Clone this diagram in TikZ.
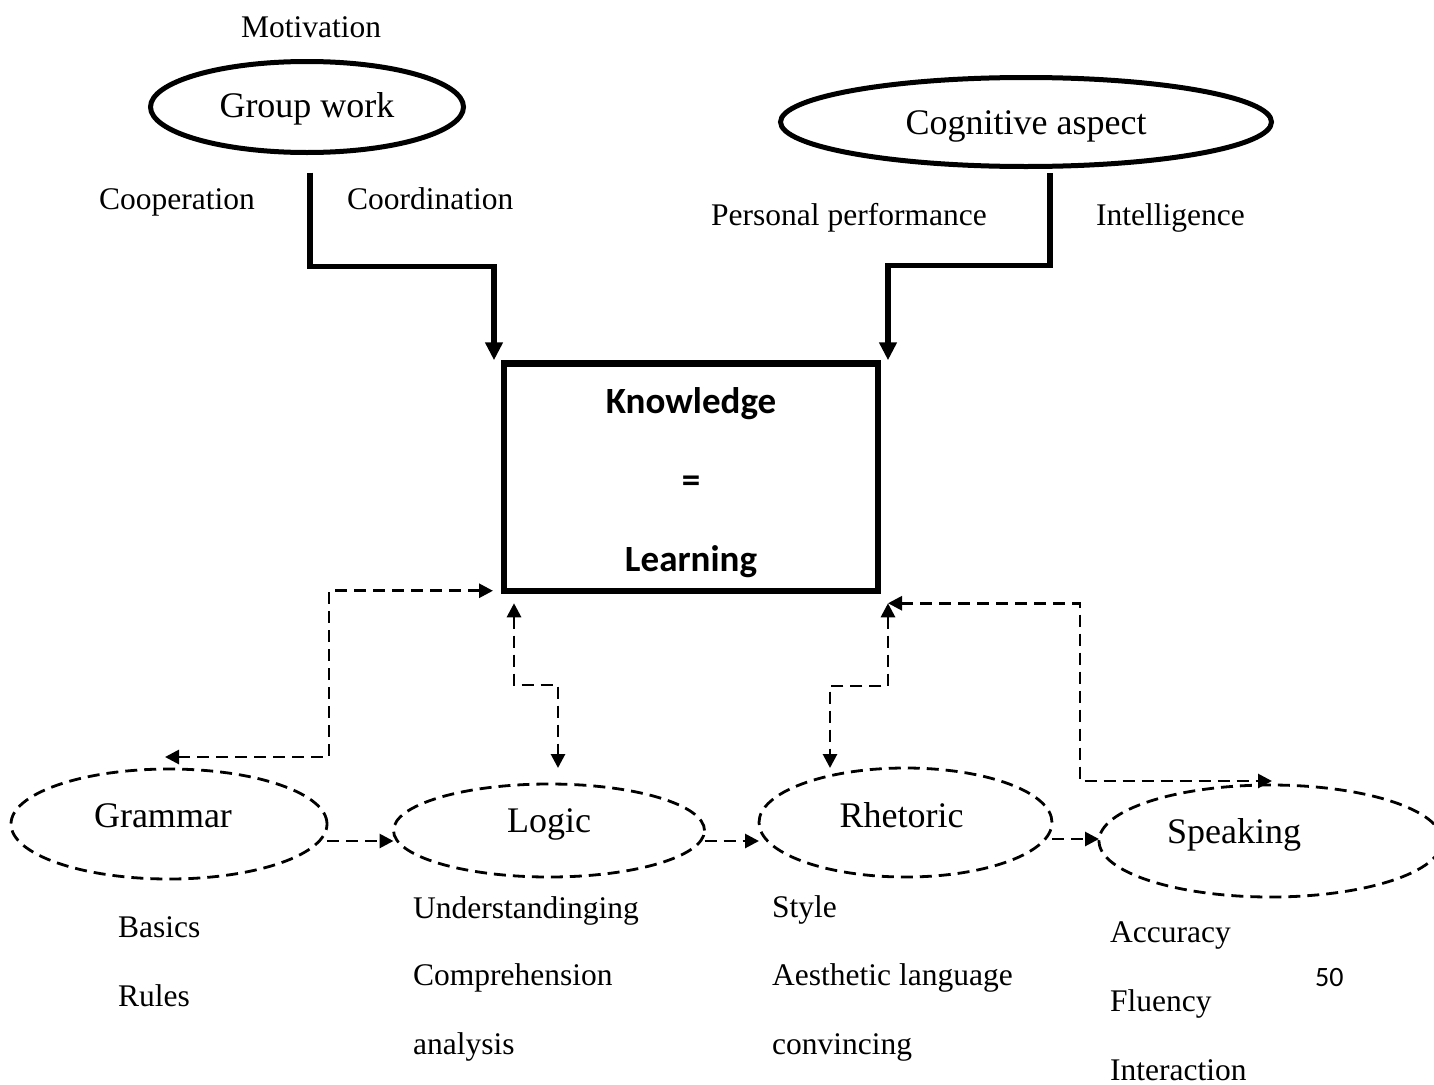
\documentclass[tikz,border=0pt]{standalone}
\usepackage{fontspec}
\setmainfont{Liberation Serif}
\newfontfamily\calfont{Carlito}
\usetikzlibrary{arrows.meta,shapes.geometric,calc}
\tikzset{
  bigtxt/.style={font=\fontsize{36}{40}\selectfont},
  smalltxt/.style={font=\fontsize{31.5}{36}\selectfont, inner sep=0pt, anchor=base west},
  toff/.style={text height=#1, text depth=0pt},
  solidell/.style={ellipse, draw, line width=5pt, inner sep=0pt, outer sep=0pt, bigtxt},
  dashell/.style={ellipse, draw, line width=2.8pt, dash pattern=on 12pt off 7pt, inner sep=0pt, outer sep=0pt, bigtxt},
  solidarr/.style={line width=5.5pt, >={Triangle[length=18pt,width=17pt]}, ->},
  dashline/.style={line width=2.8pt, dash pattern=on 12pt off 7pt, >={Triangle[length=14pt,width=14pt]}},
  twoway/.style={dashline, <->},
  oneway/.style={dashline, ->},
}
\begin{document}
\begin{tikzpicture}[x=1pt,y=-1pt]
\useasboundingbox (0,0) rectangle (1434,1084);

% top ellipses
\node[solidell, minimum width=313pt, minimum height=91pt, toff=20pt] (gw) at (307,107) {Group work};
\node[solidell, minimum width=491pt, minimum height=89pt, toff=24pt] (cog) at (1026,122) {Cognitive aspect};

% central box
\node[draw, line width=6.5pt, outer sep=0pt, minimum width=374pt, minimum height=227.5pt,
      align=center, font=\calfont\bfseries\fontsize{37}{79}\selectfont] (box) at (691,477)
      {\rule{0pt}{38pt}Knowledge\\=\\Learning};

% bottom ellipses
\node[dashell, minimum width=316pt, minimum height=110pt, toff=6pt] (gram) at (169,824) {Grammar\hspace*{12pt}};
\node[dashell, minimum width=311pt, minimum height=93pt, toff=3pt] (logic) at (549,830.5) {Logic};
\node[dashell, minimum width=293pt, minimum height=109pt, toff=9pt] (rhet) at (905.5,822.5) {Rhetoric\hspace*{8pt}};
\node[dashell, minimum width=343pt, minimum height=112pt, toff=4pt] (speak) at (1270.5,841) {Speaking\hspace*{73pt}};

% top labels
\node[smalltxt] (motiv) at (241,37.5) {Motivation};
\node[smalltxt] (coop) at (99,209) {Cooperation};
\node[smalltxt] (coord) at (347,209) {Coordination};
\node[smalltxt] (perf) at (711,225) {Personal performance};
\node[smalltxt] (intel) at (1096,225) {Intelligence};

% bottom labels
\node[smalltxt] (basics) at (118,937) {Basics};
\node[smalltxt] (rules) at (118,1006) {Rules};
\node[smalltxt] (under) at (413,918) {Understandinging};
\node[smalltxt] (compr) at (413,985.5) {Comprehension};
\node[smalltxt] (anal) at (413,1054) {analysis};
\node[smalltxt] (style) at (772,917) {Style};
\node[smalltxt] (aesth) at (772,985) {Aesthetic language};
\node[smalltxt] (convi) at (772,1054) {convincing};
\node[smalltxt] (accu) at (1110,942) {Accuracy};
\node[smalltxt] (flue) at (1110,1011) {Fluency};
\node[smalltxt] (inter) at (1110,1080) {Interaction};
\node[font=\calfont\fontsize{28}{32}\selectfont, inner sep=0pt, anchor=base west] (page) at (1315,986) {50};

% solid connectors
\draw[solidarr] ($(gw.south)+(3,20)$) -- ++(0,94) -| ($(box.north west)+(-10,-3)$);
\draw[solidarr] ($(cog.south)+(24,6.5)$) -- ++(0,92.5) -| ($(box.north east)+(10,-3)$);

% dashed connectors to box
\draw[twoway] ($(gram.north)+(-4,-12)$) -| ($(box.south west)+(-175,0)$) -- ($(box.south west)+(-11,0)$);
\draw[twoway] ($(box.south west)+(10,12.5)$) |- ($(logic.north)+(9,-99)$) -- ($(logic.north)+(9,-16)$);
\draw[twoway] ($(box.south east)+(10,12.5)$) |- ($(rhet.north)+(-75.5,-82)$) -- ($(rhet.north)+(-75.5,0)$);
\draw[twoway] ($(box.south east)+(10,12.5)$) -| ($(speak.north)+(-190.5,-4)$) -- ($(speak.north)+(1.5,-4)$);

% dashed chain
\draw[oneway] ($(gram.east)+(0,17)$) -- ($(logic.west)+(0,10.5)$);
\draw[oneway] ($(logic.east)+(0,10.5)$) -- ($(rhet.west)+(0,18.5)$);
\draw[oneway] ($(rhet.east)+(0,16.5)$) -- ($(speak.west)+(0,-2)$);
\end{tikzpicture}
\end{document}
